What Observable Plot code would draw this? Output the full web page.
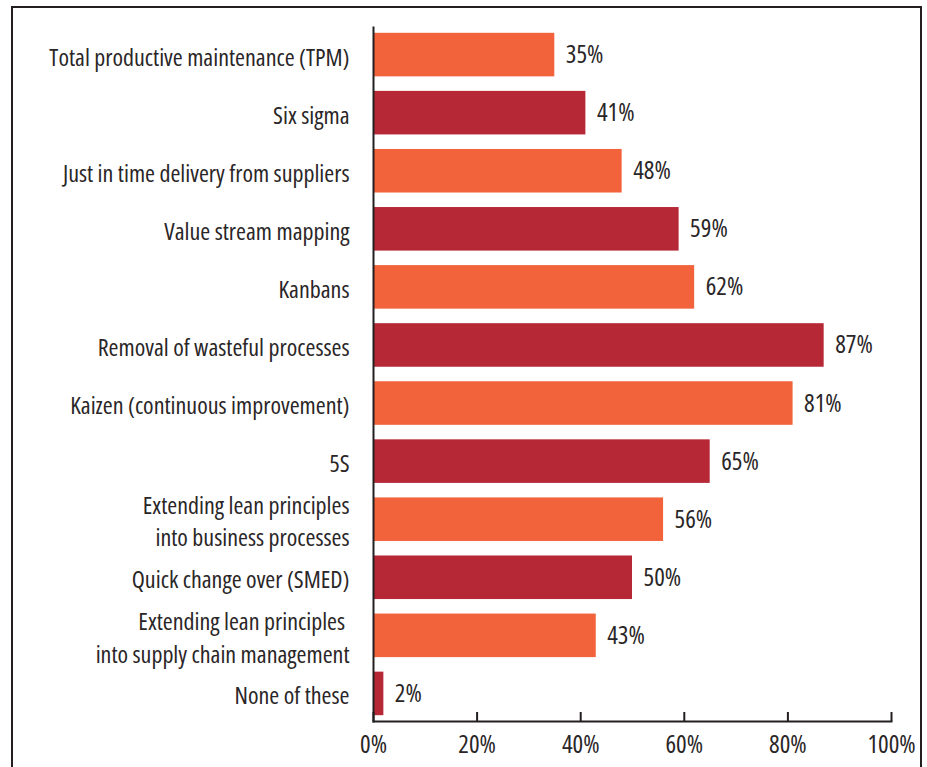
<!DOCTYPE html>
<html>
<head>
<meta charset="utf-8">
<script src="https://cdn.jsdelivr.net/npm/d3@7"></script>
<script src="https://cdn.jsdelivr.net/npm/@observablehq/plot@0.6"></script>
<style>
  html, body { margin: 0; padding: 0; background: #fff; overflow: hidden; }
  #frame { position: absolute; left: 11px; top: 6px; width: 907px; height: 800px;
           border: 2px solid #231f20; border-bottom: none; z-index: 2; pointer-events: none; }
  #chart { position: absolute; left: 0; top: 0; z-index: 1; }
  #chart svg { font-stretch: 75%; }
</style>
</head>
<body>
<div id="chart"></div>
<div id="frame"></div>
<script>
const categories = [
  "Total productive maintenance (TPM)",
  "Six sigma",
  "Just in time delivery from suppliers",
  "Value stream mapping",
  "Kanbans",
  "Removal of wasteful processes",
  "Kaizen (continuous improvement)",
  "5S",
  "Extending lean principles\ninto business processes",
  "Quick change over (SMED)",
  "Extending lean principles \ninto supply chain management",
  "None of these"
];
const values = [35, 41, 48, 59, 62, 87, 81, 65, 56, 50, 43, 2];
const tickValues = [0, 20, 40, 60, 80, 100];
const colors = ["#f2623b", "#b72837"];

const data = categories.map((c, i) => ({category: c, value: values[i], shade: i % 2}));

const font = "'Open Sans', 'DejaVu Sans Condensed', sans-serif";
const fs = 24;
const fsNum = 25;

const chart = Plot.plot({
  width: 927,
  height: 767,
  marginLeft: 373,
  marginRight: 36,
  marginTop: 27,
  marginBottom: 46,
  style: { fontFamily: font, fontSize: fs + "px", color: "#231f20", background: "transparent" },
  x: { domain: [0, 100] },
  y: { domain: categories, paddingInner: 0.25, paddingOuter: 0.1, round: false },
  marks: [
    Plot.barX(data, { y: "category", x: "value", fill: d => colors[d.shade] }),
    Plot.text(data, {
      y: "category", x: "value", text: d => d.value + "%",
      textAnchor: "start", dx: 11, fontSize: fsNum, fill: "#2a2627"
    }),
    Plot.axisY({ tickSize: 0, tickPadding: 24, lineHeight: 1.36, fontSize: fs, fill: "#2a2627", label: null }),
    Plot.axisX({ ticks: tickValues, tickSize: 0, tickPadding: 14, tickFormat: d => d + "%", fontSize: fsNum, fill: "#2a2627", label: null }),
    Plot.axisX({ ticks: tickValues, tickSize: -9, text: null, stroke: "#231f20", strokeWidth: 2, label: null }),
    Plot.frame({ anchor: "left", stroke: "#231f20", strokeWidth: 2 }),
    Plot.frame({ anchor: "bottom", stroke: "#231f20", strokeWidth: 2 })
  ]
});
document.getElementById("chart").appendChild(chart);
</script>
</body>
</html>
